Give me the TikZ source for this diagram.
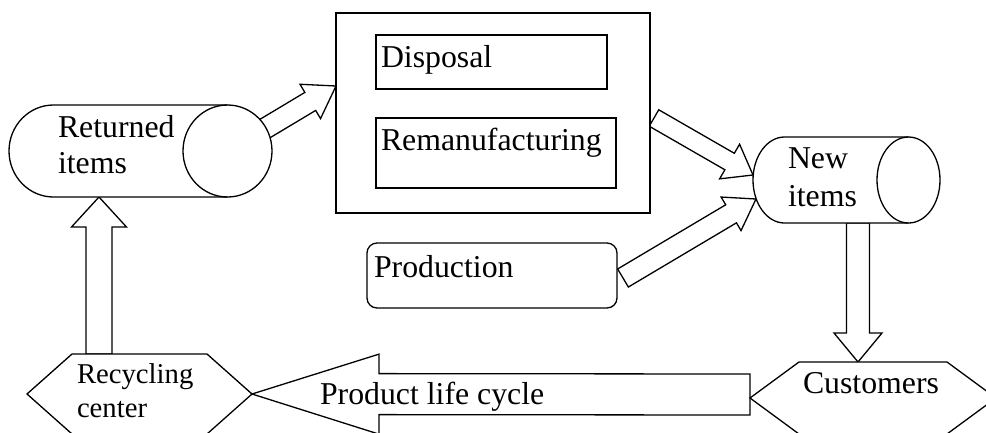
\documentclass[tikz,border=0pt]{standalone}
\usepackage{fontspec}
\setmainfont{Liberation Serif}
\usetikzlibrary{calc}

\tikzset{
  outline/.style={draw=black, line width=1.3pt, fill=white, line join=miter},
  blockline/.style={draw=black, line width=1.3pt, fill=white, line join=miter},
  place/.style={inner sep=0pt, outer sep=0pt, draw=none},
  frame/.style={outline, inner sep=0pt, outer sep=0pt},
  lbl/.style={inner sep=0pt, outer sep=0pt, anchor=base west, font=\fontsize{31.8}{36}\selectfont},
  smalllbl/.style={lbl, font=\fontsize{28.7}{34}\selectfont},
}

% wide hollow arrow: start, tip, shaft half-width, head half-width, head length
\newcommand\blockarrow[5]{%
  \coordinate (ba-s) at #1;
  \coordinate (ba-t) at #2;
  \coordinate (ba-p) at ($(ba-t)!#5!(ba-s)$);
  \draw[blockline] ($(ba-s)!#3!90:(ba-t)$) -- ($(ba-p)!#3!90:(ba-t)$)
    -- ($(ba-p)!#4!90:(ba-t)$) -- (ba-t) -- ($(ba-p)!#4!-90:(ba-t)$)
    -- ($(ba-p)!#3!-90:(ba-t)$) -- ($(ba-s)!#3!-90:(ba-t)$) -- cycle;
}

% horizontal can: node, end x-radius, end y-radius
\newcommand\canoutline[3]{%
  \draw[outline] ($(#1.north west)+(#2,0)$) -- ($(#1.north east)+(-#2,0)$)
    arc[start angle=90, end angle=-90, x radius=#2pt, y radius=#3pt]
    -- ($(#1.south west)+(#2,0)$)
    arc[start angle=270, end angle=90, x radius=#2pt, y radius=#3pt] -- cycle;
  \draw[outline, fill=none] ($(#1.north east)+(-#2,0)$)
    arc[start angle=90, end angle=270, x radius=#2pt, y radius=#3pt];
}

% flat hexagon: node, horizontal inset of the top and bottom edges
\newcommand\hexoutline[2]{%
  \draw[outline] (#1.west) -- ($(#1.north west)+(#2,0)$) -- ($(#1.north east)+(-#2,0)$)
    -- (#1.east) -- ($(#1.south east)+(-#2,0)$) -- ($(#1.south west)+(#2,0)$) -- cycle;
}

\newcommand\twolines[2]{\vtop{\hbox{#1}\hbox{#2}}}

\begin{document}
\begin{tikzpicture}[x=1pt,y=-1pt]
\useasboundingbox (0,0) rectangle (986,432);

% layout of the shapes
\node[place, minimum width=263pt, minimum height=92pt] (ret) at (140.5,151) {};
\node[place, minimum width=187pt, minimum height=86pt] (newit) at (846.5,180) {};
\node[place, minimum width=314pt, minimum height=200pt] (box) at (493,113) {};
\node[place, minimum width=250pt, minimum height=65pt] (prod) at (492,275.5) {};
\node[place, minimum width=225pt, minimum height=80pt] (rec) at (139.5,394) {};
\node[place, minimum width=246pt, minimum height=72pt] (cust) at (873,398) {};

% flow arrows
\blockarrow{($(ret.east)+(-44.5,0)$)}{($(box.west)+(0,-27)$)}{10.5pt}{20pt}{30pt}
\blockarrow{($(box.east)+(4,5)$)}{($(newit.west)+(0,-5)$)}{9.5pt}{20pt}{27pt}
\blockarrow{($(prod.east)+(6,2.5)$)}{($(newit.west)+(3,19)$)}{10.5pt}{19.5pt}{29pt}
\blockarrow{($(newit.south)+(11.5,0)$)}{($(cust.north)+(-15,0)$)}{11.5pt}{24pt}{29pt}
\blockarrow{($(cust.west)+(0,-3.5)$)}{(rec.east)}{20.5pt}{40pt}{127pt}
\blockarrow{($(rec.north)+(-40.5,0)$)}{($(ret.south)+(-41.5,0)$)}{13pt}{27.5pt}{30pt}

% shapes
\canoutline{ret}{44.5}{46}
\canoutline{newit}{31.5}{43}
\draw[outline] (box.north west) rectangle (box.south east);
\node[frame, minimum width=231pt, minimum height=54pt] (disp) at (491.5,62) {};
\node[frame, minimum width=240pt, minimum height=70pt] (reman) at (496,153) {};
\draw[outline, rounded corners=10pt] (prod.north west) rectangle (prod.south east);
\hexoutline{rec}{45}
\hexoutline{cust}{49}

% texts
\node[lbl] (retlbl) at (58,137) {\twolines{Returned}{items}};
\node[lbl] (displbl) at (381,67) {Disposal};
\node[lbl] (remanlbl) at (381,150) {Remanufacturing};
\node[lbl, font=\fontsize{31.8}{38}\selectfont] (newlbl) at (788,168) {\twolines{New}{items}};
\node[lbl] (prodlbl) at (374,277) {Production};
\node[smalllbl] (reclbl) at (77,383) {\twolines{Recycling}{center}};
\node[lbl] (custlbl) at (803,393) {Customers};
\node[lbl] (cyclelbl) at (320,404) {Product life cycle};
\end{tikzpicture}
\end{document}
